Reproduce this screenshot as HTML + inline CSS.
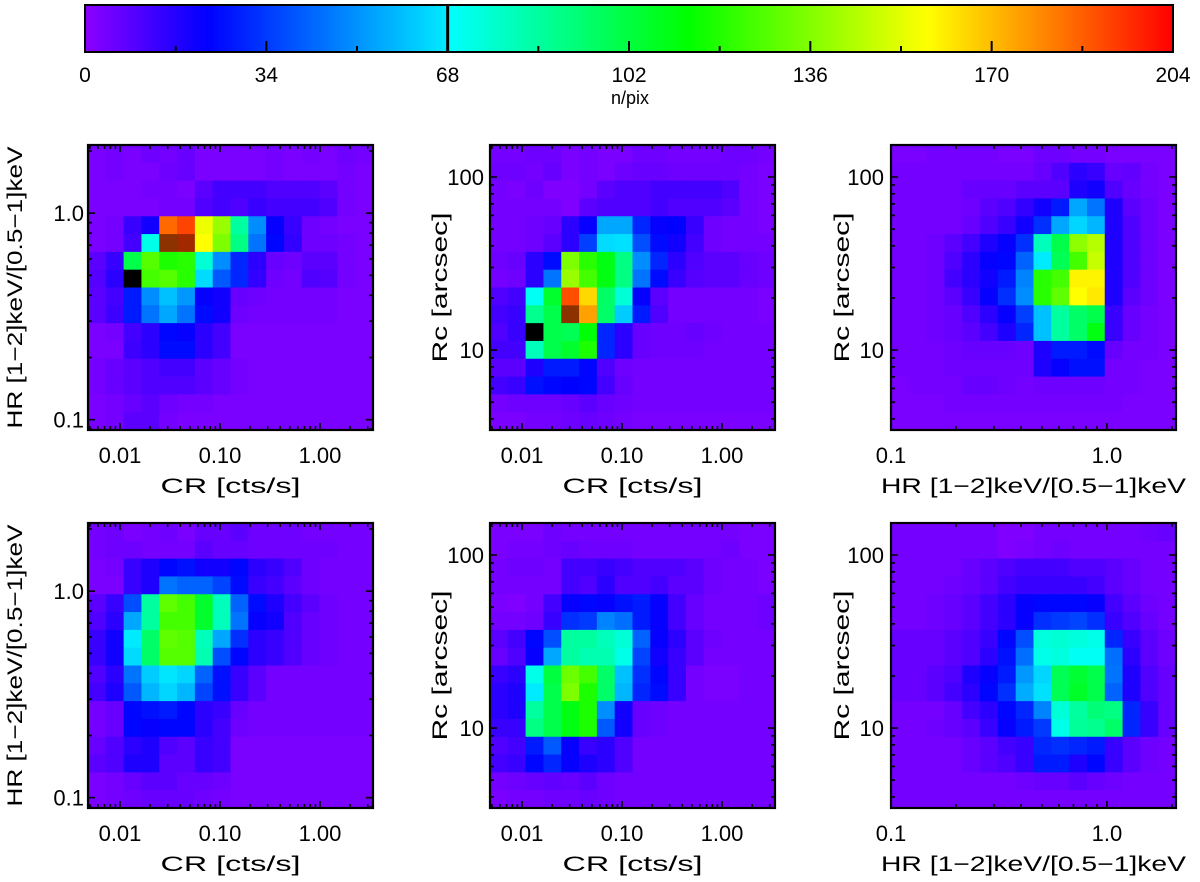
<!DOCTYPE html>
<html><head><meta charset="utf-8">
<style>
html,body{margin:0;padding:0;background:#fff;}
svg{display:block;font-family:"Liberation Sans",Arial,sans-serif;}
</style></head>
<body>
<svg id="fig" width="1200" height="882" viewBox="0 0 1200 882" xmlns="http://www.w3.org/2000/svg"></svg>
<script>
// ---------- data ----------
const cbTickValues=[0,34,68,102,136,170,204];
const cbTickLabels=["0","34","68","102","136","170","204"];
const crTickValues=[0.01,0.1,1];
const crTickLabels=["0.01","0.10","1.00"];
const hrTickValues=[0.1,1];
const hrTickLabels=["0.1","1.0"];
const rcTickValues=[10,100];
const rcTickLabels=["10","100"];

const p1Counts=[
[3,4,3,5,4,6,3,3,3,3,4,3,4,3,5,4],
[3,4,3,3,5,6,3,3,3,3,4,3,3,3,4,3],
[3,3,3,4,4,3,8,12,12,12,10,10,10,8,4,3],
[3,3,3,3,4,4,10,12,10,14,12,12,12,10,4,3],
[3,4,14,20,185,192,155,140,85,50,22,14,5,4,3,3],
[3,4,12,72,230,225,158,135,90,45,24,15,5,5,4,3],
[8,14,100,128,118,120,75,50,30,16,6,5,8,8,4,3],
[9,16,255,125,128,120,65,40,30,15,5,4,10,9,4,3],
[8,12,28,50,60,52,22,20,6,5,4,4,4,4,3,3],
[8,13,28,45,55,45,25,20,5,4,4,4,4,4,3,3],
[3,4,12,16,24,22,16,12,3,3,3,3,3,3,3,3],
[3,3,13,16,25,25,16,12,3,3,3,3,3,3,3,3],
[4,6,8,10,12,12,8,6,4,3,3,3,3,3,3,3],
[4,6,8,10,10,10,8,6,4,3,3,3,3,3,3,3],
[3,4,6,8,5,4,4,3,3,3,3,3,3,3,3,3],
[3,4,8,8,4,3,3,3,3,3,3,3,3,3,3,3]];

const p2Counts=[
[4,4,5,5,3,4,3,3,5,5,4,4,4,5,5,4],
[5,5,4,6,3,4,3,5,6,6,5,5,5,5,4,3],
[4,3,5,2,2,4,8,10,10,12,12,12,12,10,4,3],
[4,4,4,4,2,8,10,10,10,12,10,10,10,8,4,3],
[4,4,5,6,16,22,55,55,30,22,23,14,5,4,4,3],
[4,4,5,8,16,35,65,66,38,25,20,12,5,4,4,4],
[5,6,16,25,135,120,110,90,50,30,16,10,8,8,6,5],
[4,5,16,45,140,125,110,90,45,25,14,9,8,8,6,5],
[10,12,70,105,190,165,95,75,22,8,4,4,4,4,4,3],
[12,14,88,100,230,175,95,62,28,10,4,4,4,4,4,3],
[10,14,255,100,98,112,30,16,6,5,5,6,5,4,4,4],
[12,12,80,100,105,118,30,16,6,5,5,5,4,4,4,4],
[8,8,18,28,28,24,10,5,4,4,4,4,4,4,4,4],
[12,14,26,24,23,24,12,6,4,4,4,4,4,4,4,4],
[4,5,5,5,6,8,6,5,4,4,4,4,4,4,4,4],
[3,3,4,4,5,6,5,4,3,3,3,3,3,3,3,3]];

const p3Counts=[
[3,3,4,4,4,4,3,3,5,5,4,4,3,3,3,3],
[4,4,4,4,4,4,4,4,6,10,16,14,6,7,4,3],
[4,4,4,4,6,6,6,8,8,8,18,20,10,6,4,3],
[4,4,4,4,5,8,10,15,20,28,55,45,18,8,5,3],
[4,4,4,4,6,10,14,20,32,55,64,58,18,10,5,3],
[4,4,5,8,12,18,22,32,80,100,138,145,18,10,5,3],
[4,4,5,10,16,22,24,42,68,98,125,148,18,10,5,3],
[4,4,5,12,16,20,28,48,120,125,160,160,18,10,5,3],
[4,4,5,8,14,22,32,50,120,130,158,162,18,8,5,3],
[4,4,5,6,10,16,22,35,60,85,95,100,14,6,4,3],
[4,4,5,6,8,12,18,30,60,85,95,110,14,6,4,3],
[4,4,4,5,6,6,6,5,18,28,28,25,6,4,4,3],
[4,4,4,5,5,5,5,5,18,22,26,26,4,4,3,3],
[3,4,4,4,6,6,5,4,5,5,5,5,4,4,3,3],
[3,3,3,4,4,4,4,4,4,4,4,4,4,3,3,3],
[3,3,3,3,3,3,3,3,3,3,3,3,3,3,3,3]];

const p4Counts=[
[4,5,3,4,5,3,6,6,8,5,5,5,4,4,4,4],
[4,5,5,4,4,4,8,6,6,5,5,5,5,5,4,4],
[3,4,14,18,24,26,20,20,24,16,14,10,5,4,4,4],
[3,3,14,18,45,42,42,36,25,14,12,8,5,4,4,4],
[8,14,38,85,130,125,105,80,42,25,18,12,8,5,4,4],
[10,16,55,85,125,125,105,80,45,22,20,10,6,5,4,4],
[14,20,68,95,130,128,80,55,32,16,14,10,6,5,4,4],
[14,20,65,95,128,128,82,38,24,16,14,10,6,5,4,4],
[10,16,45,62,67,64,42,26,14,8,4,4,4,4,4,4],
[12,18,40,58,64,58,36,26,14,8,4,4,4,4,4,4],
[4,6,24,26,28,24,16,14,6,4,4,4,4,4,4,4],
[4,6,24,22,24,24,16,12,5,4,4,4,4,4,4,4],
[6,10,16,18,10,8,14,12,3,3,3,3,3,3,3,3],
[8,10,18,18,8,8,14,12,3,3,3,3,3,3,3,3],
[3,4,6,8,8,6,6,5,3,3,3,3,3,3,3,3],
[3,4,5,6,6,6,5,4,3,3,3,3,3,3,3,3]];

const p5Counts=[
[3,3,3,5,4,4,4,4,4,4,4,4,4,4,3,3],
[3,4,4,5,6,5,5,5,4,4,4,4,4,5,3,3],
[4,5,5,4,12,12,14,12,10,10,10,8,5,4,4,3],
[4,4,4,4,12,10,16,10,10,12,8,8,5,4,4,3],
[3,2,4,12,22,24,22,26,28,22,12,6,4,4,4,5],
[4,4,5,14,32,34,48,44,28,22,12,6,4,4,4,5],
[8,12,24,38,85,85,80,75,42,22,16,8,5,4,4,4],
[6,10,22,55,85,82,82,72,36,20,14,8,4,4,4,4],
[14,16,72,102,132,125,95,60,32,24,14,4,3,3,4,4],
[16,18,68,100,135,118,95,58,30,25,14,4,3,3,4,4],
[16,18,85,100,110,118,50,20,6,5,4,4,4,4,4,4],
[14,14,90,100,110,118,40,20,6,5,4,4,4,4,4,4],
[10,12,28,40,22,14,16,10,4,4,4,4,4,4,4,4],
[12,14,24,30,22,18,16,10,4,4,4,4,4,4,4,4],
[4,5,6,7,6,8,5,4,4,4,4,4,4,4,4,4],
[3,4,4,5,5,6,5,4,4,4,4,4,4,4,4,4]];

const p6Counts=[
[4,4,4,4,4,4,2,2,4,4,4,4,4,4,5,6],
[4,4,4,4,4,4,2,3,4,5,4,4,4,4,4,4],
[4,4,4,4,6,8,10,12,12,12,10,10,8,6,4,4],
[4,4,4,5,6,8,12,14,14,14,14,12,8,6,4,4],
[4,4,5,6,8,12,16,22,24,24,24,22,12,8,5,4],
[4,4,5,6,8,12,16,22,32,34,36,32,14,10,6,4],
[6,6,6,8,10,14,24,38,74,76,74,72,30,14,8,5],
[6,6,6,8,10,16,26,44,72,74,70,70,44,16,8,5],
[6,6,8,10,18,22,28,52,64,98,104,100,45,18,10,6],
[6,6,8,12,16,24,32,56,66,98,106,100,42,18,10,6],
[4,4,4,6,12,16,24,30,48,75,85,92,90,30,14,6],
[4,4,5,6,8,14,22,28,34,72,86,88,95,30,14,6],
[4,4,4,4,6,8,12,14,30,32,30,28,14,8,5,4],
[4,4,4,4,6,8,10,14,28,28,18,24,14,8,5,4],
[4,4,4,4,4,4,4,5,6,6,8,6,5,4,4,4],
[4,4,4,4,4,4,4,4,4,4,4,4,4,4,4,4]];

// ---------- helpers ----------
const NS="http://www.w3.org/2000/svg";
const svg=document.getElementById('fig');
function mk(tag,attrs,parent){const e=document.createElementNS(NS,tag);for(const k in attrs)e.setAttribute(k,attrs[k]);(parent||svg).appendChild(e);return e;}
const stops=[[0,[140,0,255]],[23,[0,0,255]],[68,[0,235,255]],[68.01,[0,255,255]],[113,[0,255,0]],[158,[255,255,0]],[204,[255,0,0]],[230,[140,50,0]],[255,[0,0,0]]];
function cmap(v){
  if(v<=stops[0][0])return 'rgb('+stops[0][1].join(',')+')';
  for(let i=1;i<stops.length;i++){
    if(v<=stops[i][0]){const a=stops[i-1],b=stops[i];const t=(v-a[0])/(b[0]-a[0]);
      const c=a[1].map((x,k)=>Math.round(x+(b[1][k]-x)*t));return 'rgb('+c.join(',')+')';}
  }
  return 'rgb(0,0,0)';
}

// ---------- colorbar ----------
const CB={x0:85,x1:1173,y0:5,y1:52,max:204};
const cbX=v=>CB.x0+(v/CB.max)*(CB.x1-CB.x0);
const cbG=mk('g',{});


for(let v=0;v<CB.max;v+=0.5){
  mk('rect',{x:cbX(v),y:CB.y0,width:cbX(v+0.5)-cbX(v)+0.6,height:CB.y1-CB.y0,fill:cmap(v+0.25)},cbG);
}
mk('line',{x1:cbX(68),x2:cbX(68),y1:CB.y0,y2:CB.y1,stroke:'#000','stroke-width':3},cbG);
mk('rect',{x:CB.x0,y:CB.y0,width:CB.x1-CB.x0,height:CB.y1-CB.y0,fill:'none',stroke:'#000','stroke-width':2},cbG);
for(let v=0;v<=CB.max;v+=17){
  const major=v%34===0;
  mk('line',{x1:cbX(v),x2:cbX(v),y1:CB.y1,y2:CB.y1-(major?11:6),stroke:'#000','stroke-width':2},cbG);
}
cbTickValues.forEach((v,i)=>{
  const t=mk('text',{x:cbX(v),y:82,'text-anchor':'middle','font-size':21},cbG);
  t.textContent=cbTickLabels[i];
  
  
});
const cbt=mk('text',{x:630,y:104,'text-anchor':'middle','font-size':18},cbG);
cbt.textContent='n/pix';



// ---------- panels ----------
const CR={dom:[-2.32,0.53],vals:crTickValues,labels:crTickLabels,title:'CR [cts/s]',tl:140};
const HRx={dom:[-1.0,0.32],vals:hrTickValues,labels:hrTickLabels,title:'HR [1\u22122]keV/[0.5\u22121]keV',tl:305};
const HRy={dom:[-1.05,0.33],vals:hrTickValues,labels:hrTickLabels,title:'HR [1\u22122]keV/[0.5\u22121]keV',tl:282};
const RC={dom:[0.538,2.185],vals:rcTickValues,labels:rcTickLabels,title:'Rc [arcsec]',tl:150};
const panels=[
 {name:'panel-cr-hr-top',x:88,y:145,data:p1Counts,xa:CR,ya:HRy,ytx:15,ylx:84},
 {name:'panel-cr-rc-top',x:490,y:145,data:p2Counts,xa:CR,ya:RC,ytx:440,ylx:484},
 {name:'panel-hr-rc-top',x:891,y:145,data:p3Counts,xa:HRx,ya:RC,ytx:842,ylx:884},
 {name:'panel-cr-hr-bottom',x:88,y:523,data:p4Counts,xa:CR,ya:HRy,ytx:15,ylx:84},
 {name:'panel-cr-rc-bottom',x:490,y:523,data:p5Counts,xa:CR,ya:RC,ytx:440,ylx:484},
 {name:'panel-hr-rc-bottom',x:891,y:523,data:p6Counts,xa:HRx,ya:RC,ytx:842,ylx:884}
];
const PW=285,PH=285;

panels.forEach(p=>{
  const g=mk('g',{});
  
  
  const rows=p.data.length, cols=p.data[0].length;
  const cellX=c=>p.x+c*PW/cols;
  const cellY=r=>p.y+r*PH/rows;
  p.data.forEach((row,r)=>row.forEach((v,c)=>{
    const cell=mk('rect',{x:cellX(c),y:cellY(r),width:PW/cols+0.6,height:PH/rows+0.6,fill:cmap(v)},g);
    
    
  }));
  const sx=v=>p.x+(Math.log10(v)-p.xa.dom[0])/(p.xa.dom[1]-p.xa.dom[0])*PW;
  const sy=v=>p.y+PH-(Math.log10(v)-p.ya.dom[0])/(p.ya.dom[1]-p.ya.dom[0])*PH;
  function logTicks(dom){const out=[];for(let d=Math.floor(dom[0]);d<=Math.ceil(dom[1]);d++){for(let k=1;k<10;k++){const v=k*Math.pow(10,d);const l=Math.log10(v);if(l>=dom[0]-1e-9&&l<=dom[1]+1e-9)out.push([v,k===1]);}}return out;}
  logTicks(p.xa.dom).forEach(([v,maj])=>{
    const X=sx(v),L=maj?7:4;
    mk('line',{x1:X,x2:X,y1:p.y+PH,y2:p.y+PH-L,stroke:'#000','stroke-width':1.6},g);
    mk('line',{x1:X,x2:X,y1:p.y,y2:p.y+L,stroke:'#000','stroke-width':1.6},g);
  });
  logTicks(p.ya.dom).forEach(([v,maj])=>{
    const Y=sy(v),L=maj?7:4;
    mk('line',{x1:p.x,x2:p.x+L,y1:Y,y2:Y,stroke:'#000','stroke-width':1.6},g);
    mk('line',{x1:p.x+PW,x2:p.x+PW-L,y1:Y,y2:Y,stroke:'#000','stroke-width':1.6},g);
  });
  mk('rect',{x:p.x,y:p.y,width:PW,height:PH,fill:'none',stroke:'#000','stroke-width':2.2},g);
  p.xa.vals.forEach((v,i)=>{
    const t=mk('text',{x:sx(v),y:p.y+PH+33,'text-anchor':'middle','font-size':22},g);
    t.textContent=p.xa.labels[i];
    
    
  });
  p.ya.vals.forEach((v,i)=>{
    const t=mk('text',{x:p.ylx,y:sy(v)+8,'text-anchor':'end','font-size':22},g);
    t.textContent=p.ya.labels[i];
    
    
  });
  const xt=mk('text',{x:p.x+PW/2,y:p.y+PH+63,'text-anchor':'middle','font-size':21,textLength:p.xa.tl,lengthAdjust:'spacingAndGlyphs'},g);
  xt.textContent=p.xa.title;
  
  
  const cy=p.y+PH/2;
  const yt=mk('text',{x:p.ytx,y:cy,'text-anchor':'middle','font-size':21,transform:'rotate(-90 '+p.ytx+' '+cy+') translate(0 7)',textLength:p.ya.tl,lengthAdjust:'spacingAndGlyphs'},g);
  yt.textContent=p.ya.title;
  
  
});
</script>
</body></html>
